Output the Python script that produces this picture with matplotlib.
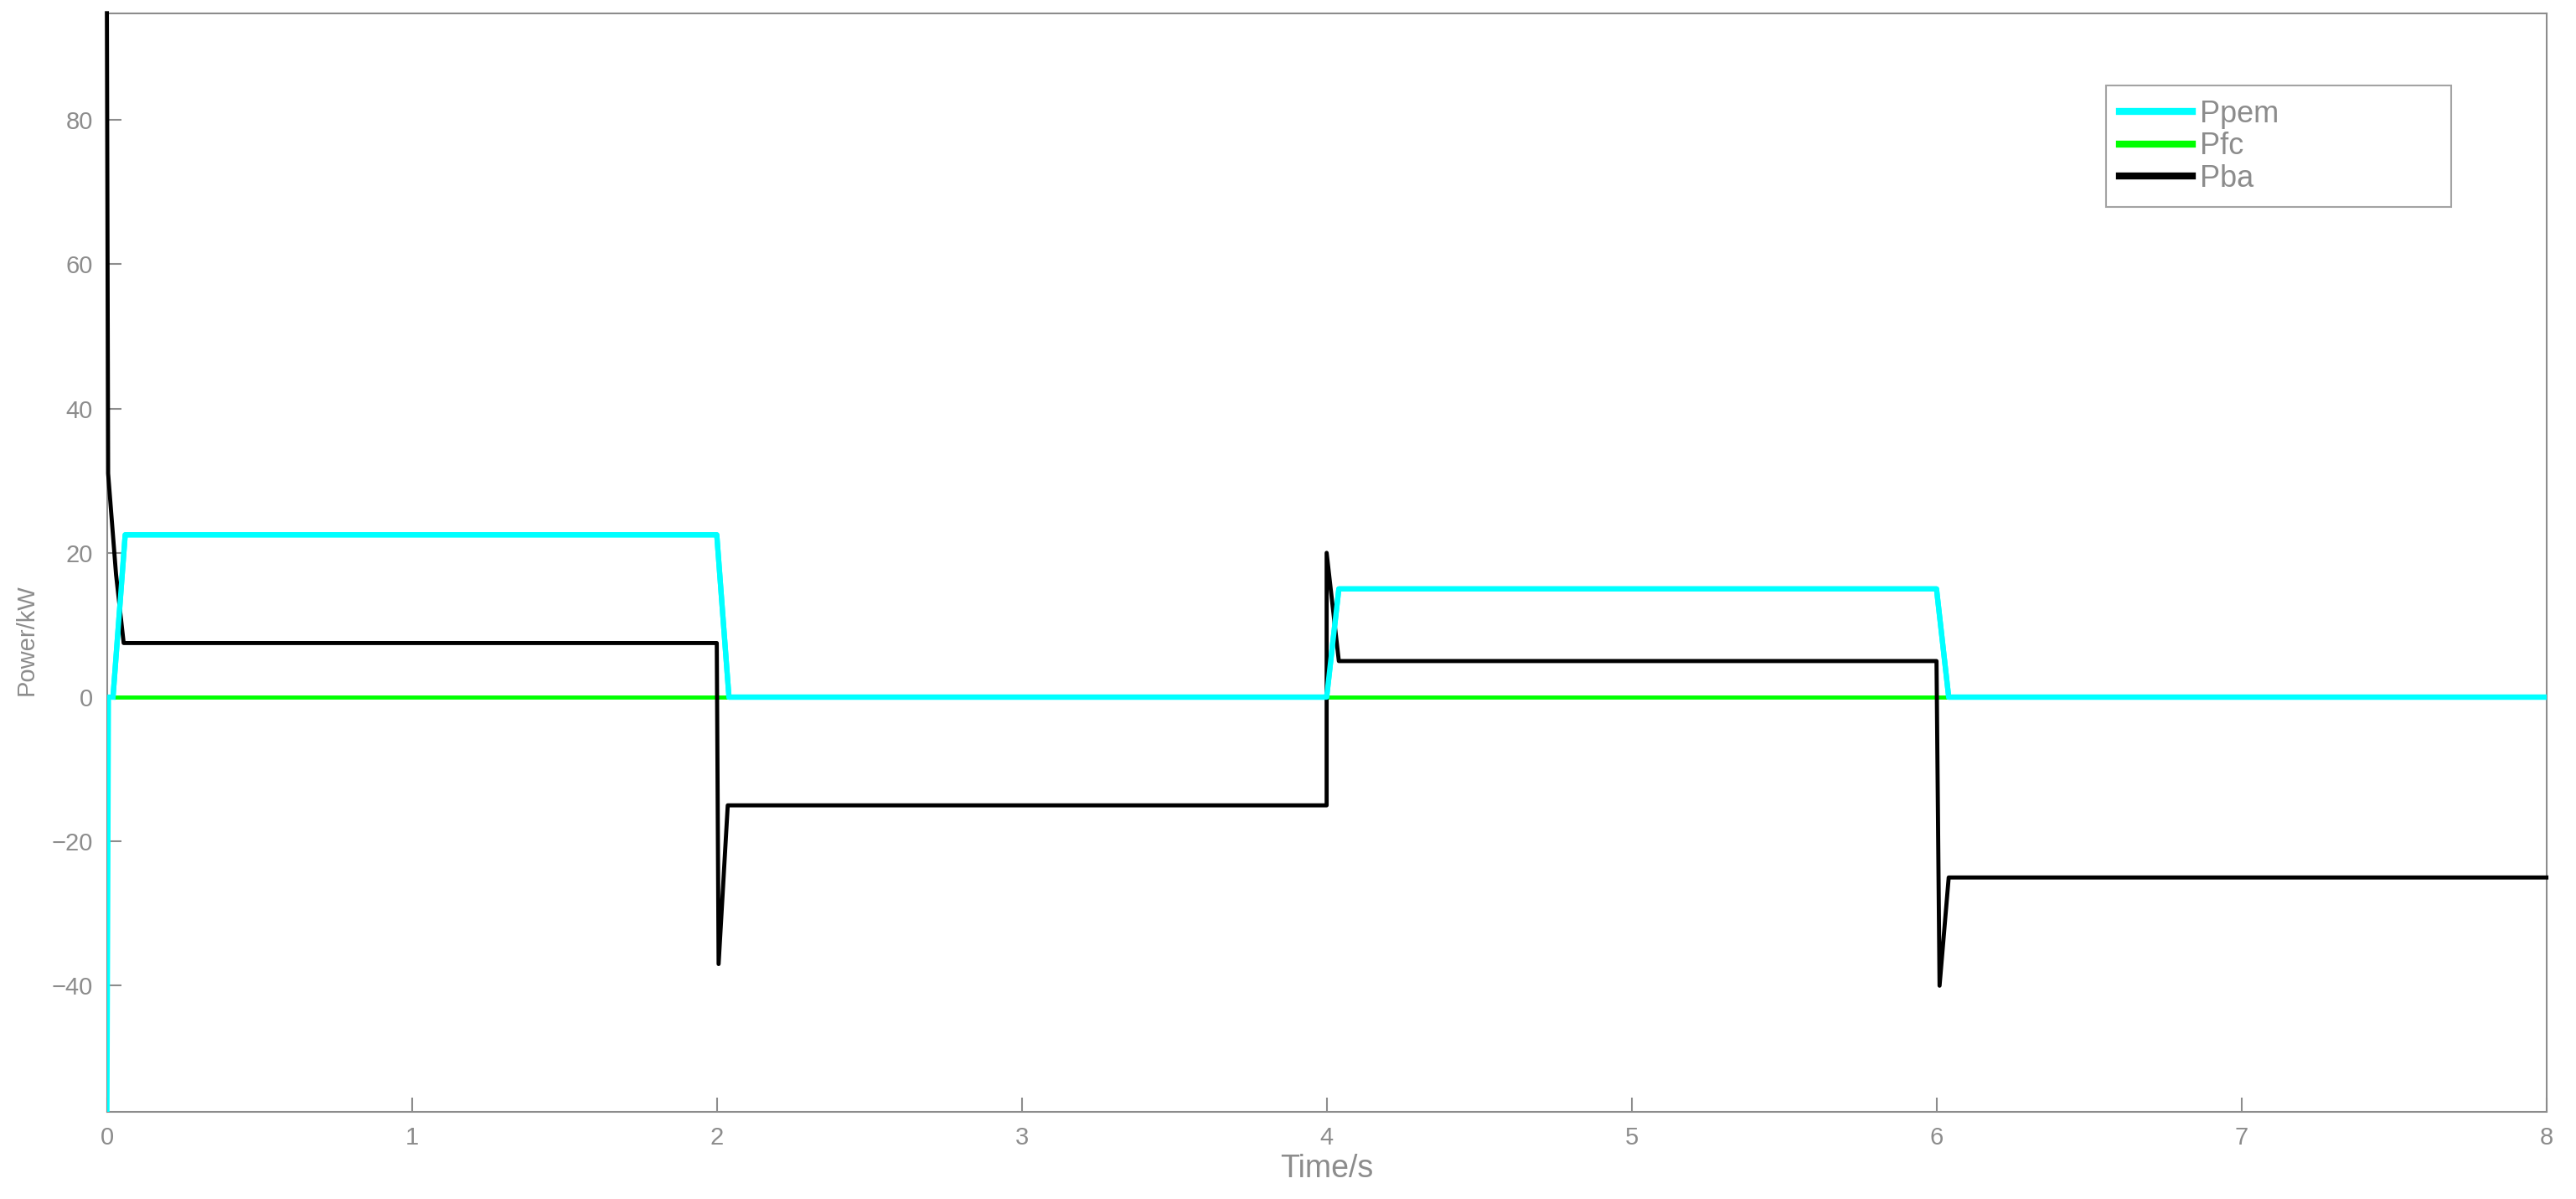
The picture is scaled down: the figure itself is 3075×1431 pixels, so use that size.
import matplotlib
matplotlib.use("Agg")
import matplotlib.pyplot as plt

plt.rcParams['font.family'] = ['Liberation Sans', 'DejaVu Sans']

# breakpoints (time in s, power in kW)
t_pem = [0.0, 0.005, 0.02, 0.06, 2.0, 2.04, 4.0, 4.04, 6.0, 6.04, 8.0]
p_pem = [-57.5, 0, 0, 22.5, 22.5, 0, 0, 15, 15, 0, 0]

t_fc = [0.01, 8.0]
p_fc = [0, 0]

t_ba = [0.0, 0.0, 0.004, 0.03, 0.055, 2.0, 2.0, 2.006, 2.036,
        4.0, 4.0, 4.04, 6.0, 6.0, 6.01, 6.04, 8.0]
p_ba = [94.8, 94.8, 31, 17, 7.5, 7.5, 7.5, -37, -15,
        -15, 20, 5, 5, 5, -40, -25, -25]

gray = '#8c8c8c'

fig = plt.figure(figsize=(30.75, 14.31), dpi=100)
ax = fig.add_axes([0.0415, 0.0726, 0.947, 0.9164])

ax.plot(t_pem, p_pem, color='#00ffff', lw=4.5, label='Ppem', zorder=3)
ax.plot(t_fc, p_fc, color='#00ff00', lw=3.5, label='Pfc', zorder=2)
ax.plot(t_ba, p_ba, color='black', lw=3.5, label='Pba', zorder=4,
        clip_on=False)
# keep cyan over black where they overlap near 0
ax.plot(t_pem[2:], p_pem[2:], color='#00ffff', lw=4.5, zorder=5)

ax.set_xlim(0, 8)
ax.set_ylim(-57.5, 94.8)
ax.set_xticks(range(0, 9))
ax.set_yticks([-40, -20, 0, 20, 40, 60, 80])
ax.tick_params(direction='in', length=12, width=1.5, colors=gray,
               labelsize=21, top=False, right=False, pad=12)
for s in ax.spines.values():
    s.set_color(gray)
    s.set_linewidth(1.5)

ax.set_xlabel('Time/s', fontsize=27, color=gray, labelpad=4)
ax.set_ylabel('Power/kW', fontsize=21, color=gray)
ax.yaxis.set_label_coords(-0.028, 0.43)

leg = ax.legend(loc='upper left', bbox_to_anchor=(0.8195, 0.825, 0.1415, 0.109),
                mode='expand', fontsize=26, frameon=True, fancybox=False,
                handlelength=2.4, handletextpad=0.25, borderpad=0.45,
                borderaxespad=0, labelspacing=0.1, labelcolor=gray)
leg.get_frame().set_edgecolor(gray)
leg.get_frame().set_linewidth(1.5)
for line in leg.get_lines():
    line.set_linewidth(6)

fig.savefig('out.png', dpi=100)
